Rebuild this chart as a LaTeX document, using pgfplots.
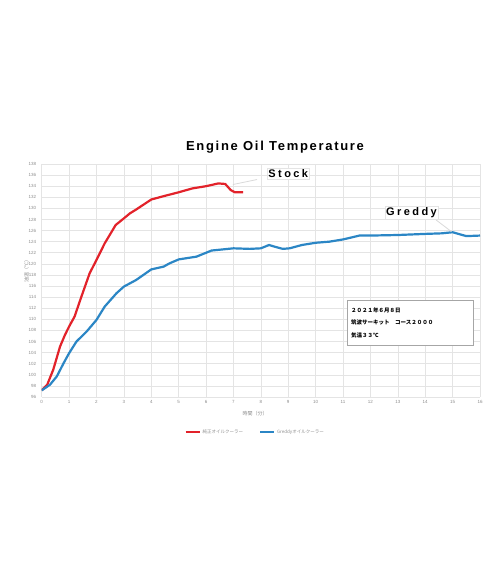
\documentclass[border=0pt]{standalone}
\usepackage{pgfplots}
\pgfplotsset{compat=1.18}
\usepackage{fontspec}
\setmainfont{Liberation Sans}
\newfontfamily\jp{Noto Sans CJK JP}
\newfontfamily\spaced[LetterSpace=13]{Liberation Sans}
\newfontfamily\wide[LetterSpace=22]{Liberation Sans}
\definecolor{redline}{RGB}{226,34,42}
\definecolor{blueline}{RGB}{43,134,197}
\definecolor{gridc}{RGB}{228,228,228}
\definecolor{tickc}{RGB}{140,140,140}
\begin{document}
\begin{tikzpicture}[x=1pt,y=1pt]
\path[use as bounding box] (0,0) rectangle (500,580);
\begin{axis}[
  at={(41.7pt,183pt)}, anchor=south west,
  scale only axis, width=438.3pt, height=233pt,
  xmin=0, xmax=16, ymin=96, ymax=138,
  xtick={0,1,...,16}, ytick={96,98,...,138},
  xmajorgrids, ymajorgrids, major grid style={gridc, line width=0.6pt},
  axis x line*=bottom, axis y line*=left,
  x axis line style={gridc, -}, y axis line style={draw=none},
  tick style={draw=none},
  ticklabel style={font=\fontsize{4.5}{5}\selectfont, text=tickc},
  yticklabel style={xshift=-2pt},
  /pgf/number format/assume math mode=true,
  xlabel={\jp 時間（分）},
  xlabel style={at={(axis description cs:0.487,-0.073)}, anchor=center, font=\fontsize{5}{6}\selectfont, text=tickc},
  ylabel={\jp 油温（℃）},
  ylabel style={at={(axis description cs:-0.035,0.545)}, anchor=center, font=\fontsize{5}{6}\selectfont, text=tickc},
  legend style={at={(axis description cs:0.487,-0.15)}, anchor=center, draw=none, fill=none,
    font=\fontsize{4.5}{5}\selectfont\jp, text=tickc, legend columns=2,
    /tikz/every even column/.append style={column sep=14pt}},
  legend image code/.code={\draw[#1, line width=2pt] (0pt,0pt) -- (14pt,0pt);},
]
\addplot[redline, line width=2.2pt, line join=round] coordinates {
(0,97.2) (0.2,98.2) (0.42,100.9) (0.67,105.1) (0.85,107.2) (1.0,108.7)
(1.2,110.5) (1.45,114.1) (1.75,118.3) (2.0,120.7) (2.3,123.7) (2.7,127.0)
(3.0,128.2) (3.22,129.1) (3.45,129.8) (4.0,131.6) (4.45,132.2) (5.0,132.9)
(5.5,133.6) (6.0,134.0) (6.45,134.5) (6.7,134.4) (6.9,133.3) (7.05,132.9) (7.35,132.9)
};
\addlegendentry{純正オイルクーラー}
\addplot[blueline, line width=2.2pt, line join=round] coordinates {
(0,97.2) (0.3,98.2) (0.55,99.7) (0.8,102.1) (1.0,103.9) (1.27,106.0)
(1.64,107.8) (2.0,109.9) (2.3,112.3) (2.73,114.7) (3.0,115.9) (3.45,117.1)
(4.0,119.0) (4.45,119.5) (4.67,120.1) (5.0,120.8) (5.65,121.3) (6.2,122.4)
(7.0,122.8) (7.6,122.7) (8.0,122.8) (8.3,123.4) (8.5,123.1) (8.8,122.7)
(9.05,122.8) (9.5,123.4) (10.0,123.8) (10.5,124.0) (11.0,124.4) (11.6,125.1)
(12.0,125.1) (13.0,125.2) (14.0,125.4) (14.6,125.5) (15.0,125.7) (15.5,125.0) (16.0,125.1)
};
\addlegendentry{Greddyオイルクーラー}
% callouts
\draw[gridc!70!black!40, line width=0.8pt] (axis cs:6.98,134.3) -- (axis cs:7.86,135.2);
\node[fill=white, draw=gridc, inner sep=1.5pt, font=\wide\bfseries\fontsize{11}{12}\selectfont]
  at (axis cs:9.0,136.2) {Stock};
\draw[gridc!70!black!40, line width=0.8pt] (axis cs:14.4,127.9) -- (axis cs:14.96,125.8);
\node[fill=white, draw=gridc, inner sep=1.5pt, font=\wide\bfseries\fontsize{11}{12}\selectfont]
  at (axis cs:13.5,129.2) {Greddy};
\node[fill=white, draw=gray!70, line width=0.6pt, anchor=north west, minimum width=126pt, minimum height=45pt,
  align=left, text width=118pt, font=\jp\bfseries\fontsize{5.5}{12.5}\selectfont, inner sep=4pt]
  at (axis cs:11.14,113.5) {２０２１年６月８日\\筑波サーキット　コース２０００\\気温３３℃};
\end{axis}
\node[font=\spaced\bfseries\fontsize{13}{15}\selectfont] at (275,433) {Engine Oil Temperature};
\end{tikzpicture}
\end{document}
